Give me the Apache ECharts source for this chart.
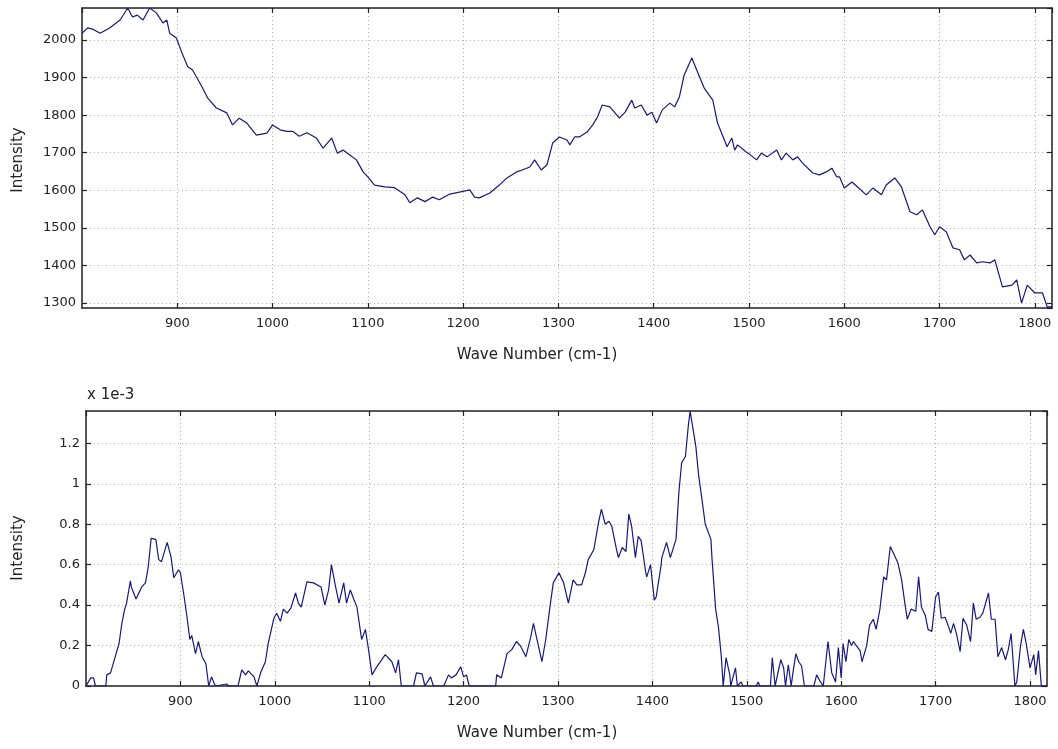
<!DOCTYPE html>
<html>
<head>
<meta charset="utf-8">
<script src="https://cdn.jsdelivr.net/npm/echarts@6/dist/echarts.min.js"></script>
<style>html,body{margin:0;padding:0;background:#fff}#c{width:1058px;height:749px}</style>
</head>
<body>
<div id="c"></div>
<script>
// ---- Data ----
const topWave = [800,806,812,819,829,840,848,853,858,864,871,878,885,889,892,899,905,911,916,920,926,932,941,952,958,965,973,983,994,1000,1008,1015,1021,1028,1036,1046,1053,1062,1068,1074,1081,1088,1095,1100,1107,1118,1128,1139,1144,1152,1160,1168,1175,1186,1196,1207,1212,1217,1228,1238,1246,1256,1262,1270,1275,1282,1288,1294,1301,1309,1312,1317,1322,1330,1336,1341,1346,1354,1364,1370,1377,1380,1387,1393,1398,1403,1409,1417,1422,1427,1432,1440,1446,1453,1462,1467,1477,1482,1485,1488,1497,1501,1508,1513,1519,1529,1534,1539,1546,1551,1556,1567,1574,1581,1587,1592,1595,1600,1608,1614,1623,1630,1639,1644,1653,1660,1669,1676,1682,1690,1695,1700,1707,1714,1721,1726,1732,1739,1745,1753,1758,1766,1776,1781,1786,1792,1800,1808,1813,1818];
const topIntensity = [2018,2032,2028,2018,2032,2053,2085,2061,2066,2053,2085,2072,2045,2053,2018,2005,1965,1929,1920,1902,1875,1845,1819,1806,1774,1792,1779,1747,1752,1774,1761,1757,1757,1744,1753,1739,1712,1739,1699,1707,1694,1681,1649,1636,1614,1609,1607,1588,1567,1580,1570,1582,1575,1590,1595,1601,1582,1580,1593,1614,1633,1649,1654,1662,1681,1654,1668,1726,1742,1734,1721,1742,1742,1755,1774,1795,1827,1822,1792,1808,1840,1819,1827,1800,1808,1779,1814,1832,1822,1849,1907,1952,1915,1872,1840,1779,1716,1739,1707,1721,1702,1695,1681,1699,1689,1707,1681,1699,1681,1689,1673,1646,1641,1649,1659,1636,1636,1606,1622,1609,1588,1606,1588,1614,1633,1609,1543,1535,1548,1503,1482,1503,1490,1447,1442,1415,1428,1407,1410,1407,1415,1343,1348,1362,1300,1348,1327,1327,1290,1290];

// bottom panel values in units of 1e-3
const botWave = [800,805,808,810,821,822,826,831,835,838,841,843,847,848,853,856,859,863,866,869,874,877,880,886,890,893,898,900,904,907,910,912,916,919,923,927,930,933,937,949,951,961,965,969,972,978,981,985,990,993,999,1002,1006,1009,1013,1017,1022,1025,1028,1034,1041,1049,1053,1057,1060,1064,1068,1073,1076,1080,1084,1087,1092,1096,1099,1103,1108,1117,1124,1128,1131,1134,1147,1150,1156,1159,1165,1168,1179,1184,1187,1192,1197,1200,1203,1206,1234,1235,1240,1246,1251,1256,1260,1266,1271,1274,1277,1283,1287,1292,1295,1301,1306,1311,1316,1320,1325,1329,1332,1338,1343,1346,1350,1354,1357,1362,1364,1368,1372,1375,1378,1382,1385,1388,1391,1393,1394,1398,1402,1404,1409,1410,1415,1419,1425,1428,1431,1435,1438,1440,1441,1446,1449,1452,1456,1462,1463,1467,1470,1473,1475,1478,1482,1483,1488,1490,1494,1496,1510,1512,1514,1525,1527,1530,1536,1539,1541,1544,1547,1549,1552,1555,1558,1561,1571,1574,1578,1581,1586,1590,1594,1597,1600,1602,1605,1608,1611,1613,1616,1620,1622,1627,1630,1634,1637,1641,1645,1648,1652,1655,1660,1664,1668,1670,1674,1679,1682,1685,1689,1692,1696,1700,1703,1706,1710,1714,1716,1719,1722,1726,1729,1733,1737,1740,1743,1747,1750,1756,1759,1763,1766,1770,1774,1777,1780,1784,1786,1790,1793,1796,1800,1804,1806,1809,1812,1818];
const botIntensity = [0,0.04,0.04,0,0,0.055,0.065,0.145,0.21,0.31,0.38,0.41,0.52,0.49,0.43,0.46,0.49,0.51,0.59,0.73,0.725,0.625,0.615,0.71,0.64,0.535,0.575,0.56,0.44,0.34,0.23,0.25,0.16,0.22,0.145,0.11,0,0.045,0,0.01,0,0,0.08,0.055,0.075,0.045,0,0.065,0.12,0.21,0.335,0.36,0.32,0.38,0.36,0.385,0.46,0.41,0.39,0.515,0.51,0.49,0.40,0.475,0.60,0.50,0.41,0.51,0.41,0.475,0.425,0.39,0.23,0.28,0.19,0.055,0.095,0.155,0.12,0.065,0.13,0,0,0.065,0.06,0,0.045,0,0,0.055,0.04,0.055,0.095,0.045,0.055,0,0,0.055,0.04,0.16,0.18,0.22,0.2,0.145,0.24,0.31,0.245,0.12,0.23,0.41,0.51,0.56,0.51,0.41,0.525,0.50,0.50,0.56,0.625,0.675,0.81,0.875,0.80,0.815,0.79,0.675,0.635,0.685,0.665,0.85,0.79,0.635,0.74,0.72,0.625,0.56,0.54,0.6,0.425,0.44,0.59,0.635,0.71,0.635,0.725,0.955,1.105,1.135,1.285,1.36,1.33,1.185,1.04,0.94,0.80,0.725,0.64,0.38,0.29,0.145,0,0.14,0.055,0,0.09,0,0.02,0,0,0.02,0,0,0.14,0,0.13,0.09,0,0.105,0,0.07,0.16,0.12,0.1,0,0,0.055,0.02,0,0.22,0.065,0.02,0.19,0.04,0.21,0.12,0.23,0.2,0.22,0.2,0.175,0.12,0.2,0.3,0.33,0.28,0.38,0.54,0.525,0.69,0.66,0.61,0.525,0.39,0.33,0.38,0.37,0.54,0.39,0.35,0.28,0.27,0.44,0.465,0.335,0.34,0.29,0.26,0.31,0.26,0.17,0.335,0.3,0.22,0.41,0.33,0.34,0.36,0.46,0.33,0.33,0.145,0.19,0.13,0.18,0.26,0,0.02,0.2,0.28,0.21,0.09,0.155,0.055,0.175,0,0];

const xName = 'Wave Number (cm-1)';
const yName = 'Intensity';
const scaleNote = 'x 1e-3';

// ---- Styles ----
const FONT = 'DejaVu Sans';
const lineColor = '#18187e';
const axisCol = '#222';
const gridLine = {show: true, lineStyle: {color: '#b4b4b4', width: 1, type: [1, 3]}};
const fmt = v => String(parseFloat(Number(v).toFixed(4)));

function pairs(xs, ys) { return xs.map((x, i) => [x, ys[i]]); }

function xAxes(gi, min, max) {
  return [
    {gridIndex: gi, type: 'value', position: 'bottom', min: min, max: max, splitNumber: 10,
     axisLine: {show: true, onZero: false, lineStyle: {color: axisCol, width: 1.5}},
     axisTick: {show: true, inside: true, length: 5, lineStyle: {color: axisCol, width: 1.2}},
     axisLabel: {show: true, margin: 9, color: '#222', fontFamily: FONT, fontSize: 13, formatter: fmt, showMinLabel: false, showMaxLabel: false},
     splitLine: gridLine},
    {gridIndex: gi, type: 'value', position: 'top', min: min, max: max, splitNumber: 10,
     axisLine: {show: true, onZero: false, lineStyle: {color: axisCol, width: 1.5}},
     axisTick: {show: true, inside: true, length: 5, lineStyle: {color: axisCol, width: 1.2}},
     axisLabel: {show: false}, splitLine: {show: false}}
  ];
}
function yAxes(gi, min, max, split) {
  return [
    {gridIndex: gi, type: 'value', position: 'left', min: min, max: max, splitNumber: split,
     axisLine: {show: true, onZero: false, lineStyle: {color: axisCol, width: 1.5}},
     axisTick: {show: true, inside: true, length: 5, lineStyle: {color: axisCol, width: 1.2}},
     axisLabel: {show: true, margin: 6, color: '#222', fontFamily: FONT, fontSize: 13, formatter: fmt, showMinLabel: gi === 1, showMaxLabel: false},
     splitLine: gridLine},
    {gridIndex: gi, type: 'value', position: 'right', min: min, max: max, splitNumber: split,
     axisLine: {show: true, onZero: false, lineStyle: {color: axisCol, width: 1.5}},
     axisTick: {show: true, inside: true, length: 5, lineStyle: {color: axisCol, width: 1.2}},
     axisLabel: {show: false}, splitLine: {show: false}}
  ];
}

const chart = echarts.init(document.getElementById('c'), null, {renderer: 'canvas'});
const nameStyle = {fill: '#222', font: '15px "' + FONT + '"'};
function label(text, x, y, align, rot) {
  return {type: 'text', x: x, y: y, rotation: rot || 0,
          style: Object.assign({text: text, x: 0, y: 0, align: align, verticalAlign: 'middle'}, nameStyle)};
}
chart.setOption({
  animation: false,
  backgroundColor: '#fff',
  grid: [
    {left: 82, top: 8, width: 970, height: 300},
    {left: 86, top: 411, width: 961, height: 275}
  ],
  xAxis: xAxes(0, 800, 1818).concat(xAxes(1, 800, 1818)),
  yAxis: yAxes(0, 1287, 2085, 8).concat(yAxes(1, 0, 1.36, 7)),
  series: [
    {type: 'line', xAxisIndex: 0, yAxisIndex: 0, data: pairs(topWave, topIntensity), showSymbol: false,
     lineStyle: {color: lineColor, width: 1.2}, itemStyle: {color: lineColor}},
    {type: 'line', xAxisIndex: 2, yAxisIndex: 2, data: pairs(botWave, botIntensity), showSymbol: false,
     lineStyle: {color: lineColor, width: 1.2}, itemStyle: {color: lineColor}}
  ],
  graphic: [
    label(xName, 537, 355, 'center'),
    label(xName, 537, 733, 'center'),
    label(scaleNote, 87, 395, 'left'),
    label(yName, 18, 160, 'center', Math.PI / 2),
    label(yName, 18, 548, 'center', Math.PI / 2)
  ]
});
</script>
</body>
</html>
